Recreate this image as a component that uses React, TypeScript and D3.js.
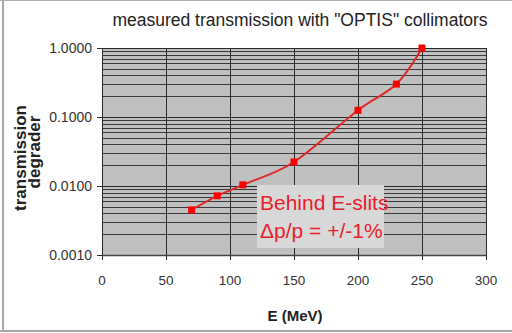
import React from "react";
import * as d3 from "d3";

// Measured transmission of the degrader versus beam energy
const energies = [70, 90, 110, 150, 200, 230, 250];
const transmission = [0.0045, 0.0072, 0.0104, 0.0223, 0.125, 0.3, 1.0];

const xTicks = [0, 50, 100, 150, 200, 250, 300];
const yTicks = [0.001, 0.01, 0.1, 1];
const yTickLabels = ["0.0010", "0.0100", "0.1000", "1.0000"];
const annotationLines = ["Behind E-slits", "\u0394p/p = +/-1%"];

const W = 512;
const H = 333;
const plot = { left: 102, right: 486, top: 48, bottom: 255 };

export default function App() {
  const x = d3.scaleLinear().domain([0, 300]).range([plot.left, plot.right]);
  const y = d3.scaleLog().domain([0.001, 1]).range([plot.bottom, plot.top]);

  // minor grid: 1..9 within each decade
  const minor: number[] = [];
  for (let e = -3; e < 0; e++) {
    for (let m = 2; m <= 9; m++) minor.push(m * Math.pow(10, e));
  }

  const line = d3
    .line<number>()
    .x((_, i) => x(energies[i]))
    .y((d) => y(d))
    .curve(d3.curveCatmullRom.alpha(0));

  const font = "'Liberation Sans', Arial, sans-serif";

  return (
    <div style={{ position: "fixed", left: 0, top: 0 }}>
      <svg width={W} height={H} style={{ display: "block", fontFamily: font }}>
        <rect x={0} y={0} width={W} height={H} fill="#ffffff" />
        {/* outer frame */}
        <line x1={0} y1={0.5} x2={W} y2={0.5} stroke="#b0b0b0" strokeWidth={1} />
        <line x1={3} y1={0} x2={3} y2={332} stroke="#a8a8a8" strokeWidth={2} />
        <line x1={0} y1={331} x2={W} y2={331} stroke="#a8a8a8" strokeWidth={2} />

        <text x={300} y={26} textAnchor="middle" fontSize={17.5} fill="#222">
          measured transmission with "OPTIS" collimators
        </text>

        {/* plot area */}
        <rect
          x={plot.left}
          y={plot.top}
          width={plot.right - plot.left}
          height={plot.bottom - plot.top}
          fill="#c0c0c0"
        />
        {minor.map((v, i) => (
          <line
            key={"mi" + i}
            x1={plot.left}
            x2={plot.right}
            y1={Math.round(y(v)) + 0.5}
            y2={Math.round(y(v)) + 0.5}
            stroke="#3a3a3a"
            strokeWidth={1}
          />
        ))}
        {yTicks.map((v, i) => (
          <line
            key={"mj" + i}
            x1={plot.left - 5}
            x2={plot.right}
            y1={Math.round(y(v)) + 0.5}
            y2={Math.round(y(v)) + 0.5}
            stroke="#2a2a2a"
            strokeWidth={1.2}
          />
        ))}
        {xTicks.map((v, i) => (
          <line
            key={"xv" + i}
            x1={Math.round(x(v)) + 0.5}
            x2={Math.round(x(v)) + 0.5}
            y1={v === 0 ? plot.top : plot.top}
            y2={plot.bottom + 5}
            stroke="#2a2a2a"
            strokeWidth={1}
          />
        ))}
        <line
          x1={plot.left}
          x2={plot.right}
          y1={plot.bottom + 0.5}
          y2={plot.bottom + 0.5}
          stroke="#444"
          strokeWidth={1.5}
        />

        {/* y tick labels */}
        {yTicks.map((v, i) => (
          <text
            key={"yl" + i}
            x={92}
            y={y(v) + 5}
            textAnchor="end"
            fontSize={14}
            fill="#333"
          >
            {yTickLabels[i]}
          </text>
        ))}
        {/* x tick labels */}
        {xTicks.map((v, i) => (
          <text
            key={"xl" + i}
            x={x(v)}
            y={285}
            textAnchor="middle"
            fontSize={13.5}
            fill="#333"
          >
            {v}
          </text>
        ))}

        {/* axis titles */}
        <text x={295} y={321} textAnchor="middle" fontSize={15} fontWeight="bold" fill="#222">
          E (MeV)
        </text>
        <text
          transform="translate(26,158) rotate(-90)"
          textAnchor="middle"
          fontSize={17}
          fontWeight="bold"
          fill="#222"
        >
          transmission
        </text>
        <text
          transform="translate(40,152) rotate(-90)"
          textAnchor="middle"
          fontSize={17}
          fontWeight="bold"
          fill="#222"
        >
          degrader
        </text>

        {/* data */}
        <path d={line(transmission) || ""} fill="none" stroke="#e02828" strokeWidth={2} />
        {transmission.map((v, i) => (
          <rect
            key={"pt" + i}
            x={x(energies[i]) - 3.5}
            y={y(v) - 3.5}
            width={7}
            height={7}
            fill="#ff0000"
          />
        ))}

        {/* annotation */}
        <rect x={257} y={185} width={127} height={63} fill="#d8d8d8" />
        {annotationLines.map((t, i) => (
          <text key={"an" + i} x={260} y={210 + i * 28} fontSize={21} fill="#e8202a">
            {t}
          </text>
        ))}
      </svg>
    </div>
  );
}
